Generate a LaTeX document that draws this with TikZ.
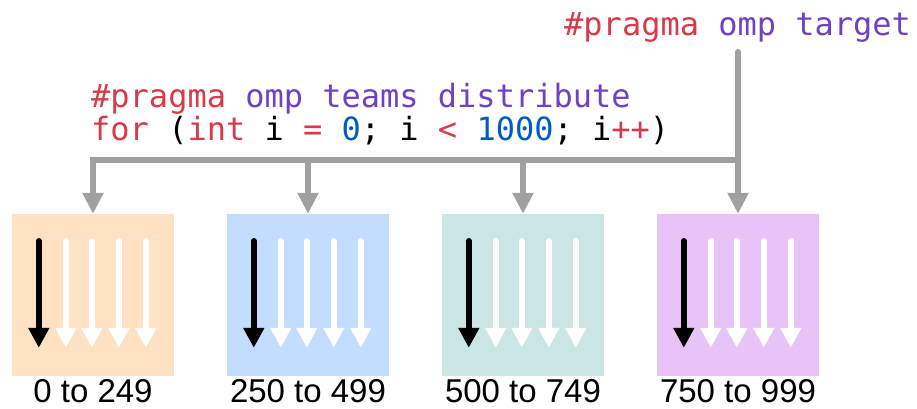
\documentclass[tikz,border=0pt]{standalone}
\usepackage{fontspec}
\setmainfont{Liberation Sans}
\newfontfamily\codefont{DejaVu Sans Mono}
\usetikzlibrary{arrows.meta}

\definecolor{kwred}{HTML}{D73A49}
\definecolor{kwpurple}{HTML}{6F42C1}
\definecolor{numblue}{HTML}{005CC5}
\definecolor{feedgray}{HTML}{A0A0A0}
\definecolor{chunkorange}{HTML}{FFE1C3}
\definecolor{chunkblue}{HTML}{C2DDFF}
\definecolor{chunkteal}{HTML}{CAE6E4}
\definecolor{chunkpurple}{HTML}{E7C3F8}

\tikzset{
  chunk/.style={minimum size=162pt, inner sep=0pt},
  bounds/.style={inner sep=0pt, anchor=base, font=\fontsize{33}{40}\selectfont},
  code/.style={inner sep=0pt, anchor=base west, font=\codefont\fontsize{32}{38}\selectfont},
  feed/.style={draw=feedgray, line width=6pt, -{Triangle[width=20pt,length=21pt]}},
  lane/.style={line width=5.5pt, line cap=round, -{Triangle[width=20pt,length=20pt]}},
}

\begin{document}
\begin{tikzpicture}[x=1pt,y=-1pt]
  \useasboundingbox (0,0) rectangle (917,408);
  % directives
  \node [code] (target) at (564,35) {\color{kwred}\#pragma \color{kwpurple}omp target};
  \node [code] (teams) at (91,107) {\color{kwred}\#pragma \color{kwpurple}omp teams distribute};
  \node [code] (loop) at (91,140) {\color{kwred}for \color{black}(\color{kwred}int \color{black}i \color{kwred}= \color{numblue}0\color{black}; i \color{kwred}< \color{numblue}1000\color{black}; i\color{kwred}++\color{black})};

  % chunks of the iteration space
  \node [chunk, fill=chunkorange] (c1) at (93,295) {};
  \node [chunk, fill=chunkblue] (c2) at (308,295) {};
  \node [chunk, fill=chunkteal] (c3) at (523,295) {};
  \node [chunk, fill=chunkpurple] (c4) at (738,295) {};
  \node [bounds] (r1) at (93,402) {0 to 249};
  \node [bounds] (r2) at (308,402) {250 to 499};
  \node [bounds] (r3) at (523,402) {500 to 749};
  \node [bounds] (r4) at (738,402) {750 to 999};

  % threads inside each team
  \foreach \c in {c1,c2,c3,c4}
    \foreach \dx/\col in {27/black,54/white,80/white,107/white,134/white}
      \draw [lane, \col] ([xshift=\dx pt,yshift=-27pt]\c.north west) -- ++(0,107);

  % distribution to the teams
  \coordinate (top) at (738,52);
  \coordinate (split) at (738,160);
  \draw [feed, line cap=round, -] (top) -- (split);
  \draw [feed] (split) -- (c4.north);
  \draw [feed] (split) -| (c1.north);
  \draw [feed] (split) -| (c2.north);
  \draw [feed] (split) -| (c3.north);
\end{tikzpicture}
\end{document}
